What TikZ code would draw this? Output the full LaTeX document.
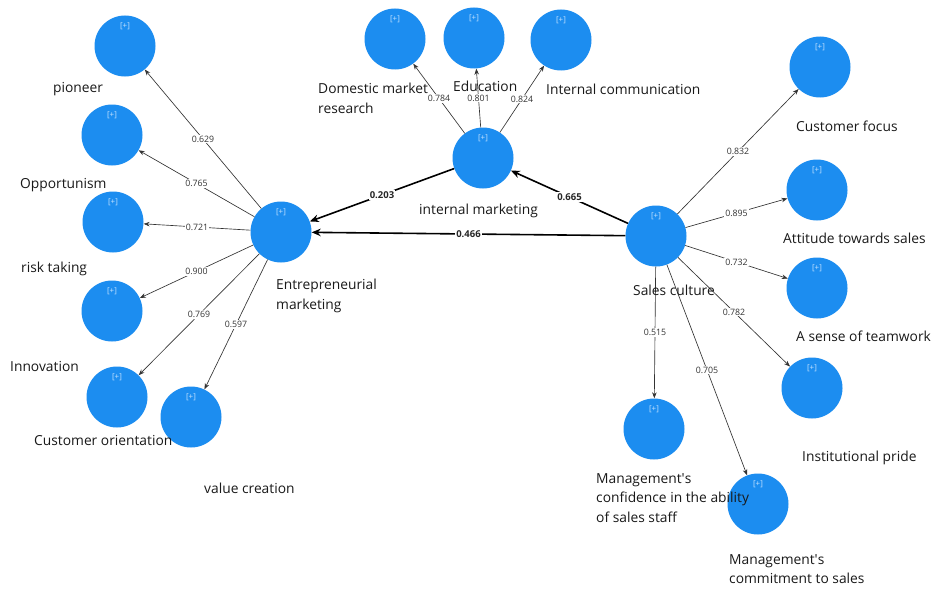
\documentclass[tikz,border=0pt]{standalone}
\usepackage{fontspec}
\setmainfont{Open Sans}
\usetikzlibrary{arrows.meta}
\definecolor{cblue}{RGB}{28,141,240}
\definecolor{pluscol}{RGB}{200,228,255}
\definecolor{txt}{RGB}{25,25,25}
\begin{document}
\begin{tikzpicture}[x=1pt,y=-1pt,
 ind/.style={circle, fill=cblue, draw=none, minimum size=61pt, inner sep=0pt,
   label={[font=\fontsize{8}{8}\selectfont, text=pluscol, anchor=north, inner sep=0pt, yshift=-7pt]north:{[+]}}},
 ld/.style={draw=black!80, line width=0.65pt, -{Stealth[length=6pt,width=4.5pt]}},
 pc/.style={draw=black, line width=1.6pt, -{Stealth[length=9pt,width=7.5pt]}},
 ldl/.style={fill=white, inner sep=1pt, font=\fontsize{8.8}{9}\selectfont, text=black!80},
 pcl/.style={fill=white, inner sep=1pt, font=\fontsize{9.5}{10}\selectfont\bfseries, text=black!85},
 lab/.style={font=\fontsize{13.8}{19.5}\selectfont, text=txt, align=left, inner sep=0pt}
]
\fill[white] (0,0) rectangle (931,594);
\useasboundingbox (0,0) rectangle (931,594);

% latent variables
\node[ind] (EM) at (281,232) {};
\node[ind] (IM) at (483,158) {};
\node[ind] (SC) at (656,236) {};

% left indicators
\node[ind] (pio) at (125,46) {};
\node[ind] (opp) at (112,135) {};
\node[ind] (risk) at (113,222) {};
\node[ind] (inn) at (112,311) {};
\node[ind] (cor) at (117,397) {};
\node[ind] (val) at (191,417) {};

% top indicators
\node[ind] (dmr) at (395,39) {};
\node[ind] (edu) at (474,38) {};
\node[ind] (icm) at (561,40) {};

% right indicators
\node[ind] (cf) at (820,67) {};
\node[ind] (ats) at (817,190) {};
\node[ind] (stw) at (817,288) {};
\node[ind] (ip) at (812,388) {};
\node[ind] (mcs) at (654,429) {};
\node[ind] (mcm) at (758,504) {};

% loadings
\draw[ld] (EM) -- node[ldl] {0.629} (pio);
\draw[ld] (EM) -- node[ldl] {0.765} (opp);
\draw[ld] (EM) -- node[ldl] {0.721} (risk);
\draw[ld] (EM) -- node[ldl] {0.900} (inn);
\draw[ld] (EM) -- node[ldl] {0.769} (cor);
\draw[ld] (EM) -- node[ldl] {0.597} (val);

\draw[ld] (IM) -- node[ldl] {0.784} (dmr);
\draw[ld] (IM) -- node[ldl] {0.801} (edu);
\draw[ld] (IM) -- node[ldl] {0.824} (icm);

\draw[ld] (SC) -- node[ldl] {0.832} (cf);
\draw[ld] (SC) -- node[ldl] {0.895} (ats);
\draw[ld] (SC) -- node[ldl] {0.732} (stw);
\draw[ld] (SC) -- node[ldl] {0.782} (ip);
\draw[ld] (SC) -- node[ldl] {0.515} (mcs);
\draw[ld] (SC) -- node[ldl] {0.705} (mcm);

% path coefficients
\draw[pc] (IM) -- node[pcl] {0.203} (EM);
\draw[pc] (SC) -- node[pcl] {0.665} (IM);
\draw[pc] (SC) -- node[pcl] {0.466} (EM);

% text labels
\node[lab, anchor=west] (tpio) at (53,89) {pioneer};
\node[lab, anchor=west] (topp) at (20,185) {Opportunism};
\node[lab, anchor=west] (trisk) at (21,269) {risk taking};
\node[lab, anchor=west] (tinn) at (10,366) {Innovation};
\node[lab, anchor=west] (tcor) at (34,440) {Customer orientation};
\node[lab, anchor=west] (tval) at (204,488) {value creation};
\node[lab, anchor=north west] (tem) at (276,279) {Entrepreneurial\\marketing};
\node[lab, anchor=north west] (tdmr) at (318,83) {Domestic market\\research};
\node[lab, anchor=west] (tedu) at (453,86) {Education};
\node[lab, anchor=west] (ticm) at (546,89) {Internal communication};
\node[lab, anchor=west] (tim) at (419,211) {internal marketing};
\node[lab, anchor=west] (tsc) at (633,290) {Sales culture};
\node[lab, anchor=west] (tcf) at (796,126) {Customer focus};
\node[lab, anchor=west] (tats) at (783,238) {Attitude towards sales};
\node[lab, anchor=west] (tstw) at (796,336) {A sense of teamwork};
\node[lab, anchor=west] (tip) at (802,458) {Institutional pride};
\node[lab, anchor=north west] (tmcs) at (596,473) {Management\textquotesingle s\\confidence in the ability\\of sales staff};
\node[lab, anchor=north west] (tmcm) at (729,554) {Management\textquotesingle s\\commitment to sales};
\end{tikzpicture}
\end{document}
